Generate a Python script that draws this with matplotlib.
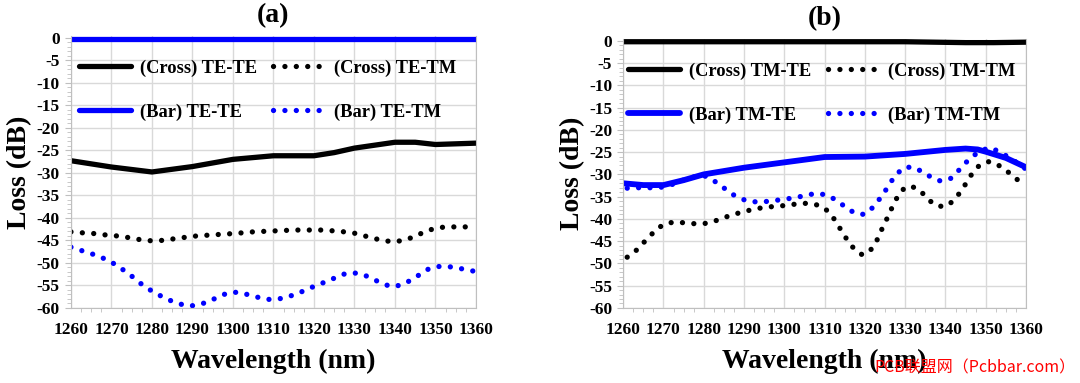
import matplotlib.pyplot as plt
from matplotlib.ticker import MultipleLocator

plt.rcParams['font.family'] = ['Liberation Serif', 'Noto Sans CJK SC', 'DejaVu Sans']
plt.rcParams['font.weight'] = 'bold'
plt.rcParams['axes.unicode_minus'] = False

BLUE = '#0000ff'

# ---- panel (a) ----
wl_a_line = [1260, 1270, 1280, 1290, 1300, 1310, 1320, 1325, 1330, 1340, 1345, 1350, 1360]
cross_te_te = [-27.3, -28.7, -29.8, -28.6, -27.0, -26.2, -26.2, -25.5, -24.5, -23.2, -23.2, -23.7, -23.4]
bar_te_te_wl = [1260, 1360]
bar_te_te = [-0.2, -0.2]

wl_a_cross_tm = [1260, 1262.5, 1265, 1267.5, 1270, 1272.5, 1275, 1277.5, 1280, 1282.5,
                 1285, 1287.5, 1290, 1292.5, 1295, 1297.5, 1300, 1302.5, 1305, 1307.5,
                 1310, 1312.5, 1315, 1317.5, 1320, 1322.5, 1325, 1327.5, 1330, 1332.5,
                 1335, 1337.5, 1340, 1342.5, 1345, 1347.5, 1350, 1352.5, 1355, 1357.5, 1360]
cross_te_tm = [-43.1, -43.3, -43.4, -43.7, -43.9, -44.1, -44.5, -44.9, -45.1, -45.0,
               -44.7, -44.4, -44.1, -43.9, -43.8, -43.6, -43.5, -43.3, -43.1, -43.0,
               -42.9, -42.8, -42.7, -42.7, -42.7, -42.7, -42.9, -43.1, -43.4, -44.0,
               -44.6, -45.1, -45.3, -44.9, -44.1, -43.0, -42.3, -42.0, -42.0, -42.0, -42.1]

wl_a_bar_tm = [1260, 1262.4, 1264.9, 1267.3, 1269.6, 1271.7, 1273.8, 1275.8, 1277.8, 1279.9,
               1282.1, 1284.4, 1286.8, 1289.2, 1291.6, 1293.9, 1296.3, 1298.6, 1301.1, 1303.5,
               1306.0, 1308.4, 1310.8, 1313.3, 1315.7, 1318.0, 1320.3, 1322.6, 1325.0, 1327.4,
               1329.8, 1332.2, 1334.6, 1336.9, 1339.2, 1341.6, 1343.8, 1346.1, 1348.2, 1350.5,
               1353.0, 1355.5, 1357.9, 1360]
bar_te_tm = [-46.5, -47.2, -47.9, -48.7, -49.6, -50.8, -52.1, -53.5, -55.0, -56.2,
             -57.3, -58.3, -59.1, -59.6, -59.3, -58.6, -57.6, -56.7, -56.5, -57.0,
             -57.6, -58.1, -58.1, -57.6, -56.9, -56.0, -55.1, -54.3, -53.4, -52.5,
             -52.2, -52.6, -53.6, -54.6, -55.3, -54.9, -53.9, -52.6, -51.4, -50.8,
             -50.8, -51.1, -51.6, -51.9]

# ---- panel (b) ----
cross_tm_te_wl = [1260, 1330, 1345, 1352, 1360]
cross_tm_te = [-0.2, -0.2, -0.4, -0.4, -0.3]

wl_b_line = [1260, 1265, 1270, 1275, 1280, 1290, 1300, 1310, 1320, 1330, 1340, 1345, 1348, 1350, 1355, 1360]
bar_tm_te = [-32.0, -32.4, -32.4, -31.3, -30.0, -28.5, -27.3, -26.1, -26.0, -25.4, -24.5, -24.2, -24.4, -24.9, -26.3, -28.4]

wl_b_cross_tm = [1261, 1263.1, 1264.9, 1266.6, 1268.4, 1270.6, 1273.0, 1275.5, 1278.0, 1280.5,
                 1283.0, 1285.4, 1287.8, 1290.2, 1292.6, 1295.1, 1297.6, 1300.1, 1302.6, 1305.1,
                 1307.6, 1309.9, 1311.8, 1313.1, 1314.5, 1315.8, 1317.4, 1319.4, 1321.5, 1322.9,
                 1323.9, 1325.0, 1326.1, 1327.2, 1328.4, 1330.1, 1332.4, 1334.4, 1336.2, 1338.3,
                 1340.6, 1342.5, 1344.0, 1345.4, 1346.7, 1348.5, 1350.9, 1353.1, 1355.2, 1357.2, 1359.1, 1360]
cross_tm_tm = [-48.6, -47.2, -45.5, -43.9, -42.2, -41.0, -40.7, -40.9, -41.1, -41.0,
               -40.4, -39.6, -38.9, -38.3, -37.8, -37.4, -37.2, -37.0, -36.7, -36.5,
               -36.7, -37.5, -39.2, -41.1, -43.1, -45.0, -46.8, -48.1, -46.9, -45.0,
               -42.9, -40.9, -38.7, -36.6, -34.5, -32.8, -32.9, -34.3, -36.0, -37.2,
               -37.0, -35.4, -33.6, -31.6, -29.7, -27.9, -27.1, -27.9, -29.2, -30.7, -32.1, -32.4]

wl_b_bar_tm = [1261, 1263.4, 1265.8, 1268.5, 1270.8, 1273.0, 1275.4, 1277.8, 1280.5, 1282.8,
               1284.8, 1286.8, 1289.0, 1291.4, 1294.0, 1296.6, 1299.0, 1301.4, 1303.9, 1306.3,
               1308.8, 1311.2, 1313.4, 1315.4, 1317.5, 1319.8, 1321.9, 1323.5, 1325.0, 1326.3,
               1327.8, 1329.8, 1332.2, 1334.4, 1336.6, 1338.8, 1341.3, 1343.1, 1344.8, 1346.6,
               1349.0, 1351.1, 1353.4, 1355.4, 1357.8, 1359.8]
bar_tm_tm = [-33.1, -33.0, -33.0, -33.0, -32.7, -32.0, -31.1, -30.5, -30.4, -31.6,
             -32.9, -34.3, -35.4, -36.1, -36.2, -36.0, -35.7, -35.4, -35.0, -34.5,
             -34.3, -34.9, -36.1, -37.5, -38.7, -39.0, -37.5, -35.7, -33.8, -31.9,
             -30.0, -28.4, -28.4, -29.5, -30.7, -31.5, -30.9, -29.3, -27.6, -26.0,
             -24.6, -24.0, -24.9, -26.0, -27.4, -28.7]

xticks = list(range(1260, 1361, 10))

fig = plt.figure(figsize=(10.8, 3.83), dpi=100)
ax_a = fig.add_axes([0.0657, 0.196, 0.375, 0.710])
ax_b = fig.add_axes([0.577, 0.196, 0.373, 0.702])

solid_kw = dict(lw=3.8, solid_capstyle='round')
dot_kw = dict(lw=3.8, linestyle=(0, (0.01, 2.15)), dash_capstyle='round')


def style(ax, title):
    ax.set_xlim(1260, 1360)
    ax.set_ylim(-60, 0.4)
    ax.set_xticks(xticks)
    ax.xaxis.set_minor_locator(MultipleLocator(2.5))
    ax.set_yticks(range(-60, 1, 5))
    ax.yaxis.set_minor_locator(MultipleLocator(1))
    ax.grid(True, which='major', color='#d9d9d9', lw=1.0)
    ax.set_axisbelow(True)
    for s in ax.spines.values():
        s.set_color('#bfbfbf')
    ax.spines['top'].set_visible(False)
    ax.tick_params(axis='both', which='both', colors='#bfbfbf', labelcolor='black', labelsize=12.5)
    ax.tick_params(axis='x', which='major', length=0, pad=10)
    ax.tick_params(axis='x', which='minor', length=3)
    ax.tick_params(axis='y', which='major', length=4, pad=4)
    ax.tick_params(axis='y', which='minor', length=3)
    for lab in ax.get_xticklabels() + ax.get_yticklabels():
        lab.set_fontweight('bold')
    ax.set_xlabel('Wavelength (nm)', fontsize=20, fontweight='bold', labelpad=8)
    ax.set_ylabel('Loss (dB)', fontsize=20, fontweight='bold', labelpad=3)
    ax.set_title(title, fontsize=20, fontweight='bold', pad=10)


leg_kw = dict(ncol=2, frameon=False, loc='upper left', prop={'size': 13.3, 'weight': 'bold'},
              handlelength=2.85, handletextpad=0.45, columnspacing=0.9, labelspacing=1.45)

# panel (a)
h1, = ax_a.plot(wl_a_line, cross_te_te, color='black', **solid_kw)
h2, = ax_a.plot(bar_te_te_wl, bar_te_te, color=BLUE, **solid_kw)
h3, = ax_a.plot(wl_a_cross_tm, cross_te_tm, color='black', **dot_kw)
h4, = ax_a.plot(wl_a_bar_tm, bar_te_tm, color=BLUE, **dot_kw)
style(ax_a, '(a)')
ax_a.legend([h1, h2, h3, h4], ['(Cross) TE-TE', '(Bar) TE-TE', '(Cross) TE-TM', '(Bar) TE-TM'],
            bbox_to_anchor=(-0.022, 0.975), **leg_kw)

# panel (b)
g1, = ax_b.plot(cross_tm_te_wl, cross_tm_te, color='black', **solid_kw)
g2, = ax_b.plot(wl_b_line, bar_tm_te, color=BLUE, lw=4.2, solid_capstyle='round')
g3, = ax_b.plot(wl_b_cross_tm, cross_tm_tm, color='black', **dot_kw)
g4, = ax_b.plot(wl_b_bar_tm, bar_tm_tm, color=BLUE, **dot_kw)
style(ax_b, '(b)')
ax_b.legend([g1, g2, g3, g4], ['(Cross) TM-TE', '(Bar) TM-TE', '(Cross) TM-TM', '(Bar) TM-TM'],
            bbox_to_anchor=(-0.03, 0.975), **leg_kw)

# watermark
fig.text(0.996, 0.04, 'PCB联盟网（Pcbbar.com）', color='#ff0000', fontsize=11.5,
         ha='right', va='center', family=['Noto Sans CJK SC', 'DejaVu Sans'], fontweight='normal')

fig.savefig('out.png', dpi=100)
